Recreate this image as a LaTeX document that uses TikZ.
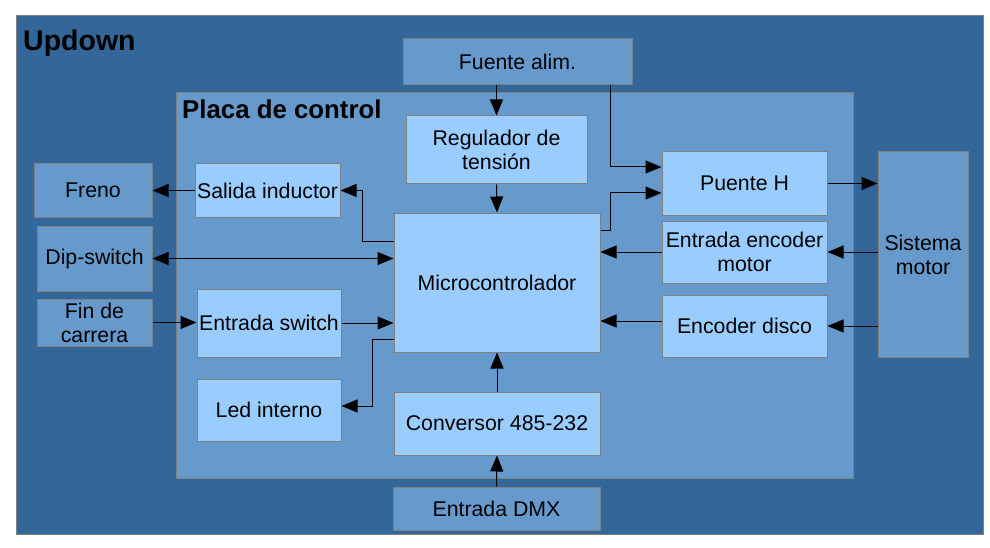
\documentclass[tikz,border=0pt]{standalone}
\usepackage{fontspec}
\setmainfont{Liberation Sans}
\usetikzlibrary{arrows.meta,calc}
\definecolor{dblue}{HTML}{336699}
\definecolor{mblue}{HTML}{6699CC}
\definecolor{lblue}{HTML}{99CCFF}
\definecolor{bord}{HTML}{808080}
\begin{document}
\begin{tikzpicture}[x=1pt,y=-1pt,
  base/.style={draw=bord,line width=1pt,inner sep=0pt,align=center,font=\fontsize{21.3}{24}\selectfont},
  inbox/.style={base,fill=lblue},
  outbox/.style={base,fill=mblue},
  arr/.style={line width=1pt,-{Triangle[length=16pt,width=13pt]}},
  arrb/.style={line width=1pt,{Triangle[length=16pt,width=13pt]}-{Triangle[length=16pt,width=13pt]}}]
\useasboundingbox (0,0) rectangle (990,548);
\fill[white] (0,0) rectangle (990,548);
% containers
\draw[draw=bord,fill=dblue,line width=1pt] (16,16) rectangle (983,534);
\draw[draw=bord,fill=mblue,line width=1pt] (176,93) rectangle (853,478);
\node[anchor=base west,inner sep=0pt,font=\fontsize{28.5}{32}\selectfont\bfseries] (tup) at (23,50.5) {Updown};
\node[anchor=base west,inner sep=0pt,font=\fontsize{25.8}{29}\selectfont\bfseries] (tpl) at (182,119) {Placa de control};
% boxes
\node[outbox,minimum width=229pt,minimum height=46pt] (fuente) at (517.5,62) {Fuente alim.};
\node[inbox,minimum width=181pt,minimum height=68pt] (reg) at (496.5,150) {Regulador de\\tensión};
\node[inbox,minimum width=206pt,minimum height=139pt] (micro) at (497,282.5) {Microcontrolador};
\node[inbox,minimum width=206pt,minimum height=63pt] (conv) at (497,423.5) {Conversor 485-232};
\node[outbox,minimum width=207pt,minimum height=43pt] (dmx) at (496.5,508.5) {Entrada DMX};
\node[inbox,minimum width=145pt,minimum height=53pt] (salida) at (267.5,190.5) {Salida inductor};
\node[outbox,minimum width=118pt,minimum height=53pt] (freno) at (93,190.5) {Freno};
\node[outbox,minimum width=115pt,minimum height=65pt] (dip) at (94.5,258.5) {Dip-switch};
\node[outbox,minimum width=115pt,minimum height=47pt] (fin) at (94.5,322.5) {Fin de\\carrera};
\node[inbox,minimum width=144pt,minimum height=68pt] (esw) at (269,323) {Entrada switch};
\node[inbox,minimum width=144pt,minimum height=62pt] (led) at (269,410) {Led interno};
\node[inbox,minimum width=165pt,minimum height=63pt] (puente) at (744.5,183.5) {Puente H};
\node[inbox,minimum width=165pt,minimum height=62pt] (enc) at (744.5,252) {Entrada encoder\\motor};
\node[inbox,minimum width=165pt,minimum height=62pt] (disco) at (744.5,326) {Encoder disco};
\node[outbox,minimum width=90pt,minimum height=205pt] (sis) at (923,254.5) {Sistema\\motor};
% connectors
\draw[arr] (reg.north |- fuente.south) -- (reg.north);
\draw[arr] (fuente.south -| 610,0) |- (puente.west |- 0,167);
\draw[arr] (reg.south) -- (micro.north);
\draw[arr] (micro.east |- 0,230) -- (610,230) |- (puente.west |- 0,193);
\draw[arr] (micro.west |- 0,241) -| (362,190.5) -- (salida.east);
\draw[arr] (salida.west) -- (freno.east);
\draw[arrb] (dip.east) -- (micro.west |- dip.east);
\draw[arr] (fin.east) -- (esw.west |- fin.east);
\draw[arr] (esw.east) -- (micro.west |- esw.east);
\draw[arr] (micro.west |- 0,339) -| (372,406) -- (led.east |- 0,406);
\draw[arr] (conv.north) -- (micro.south);
\draw[arr] (dmx.north) -- (conv.south);
\draw[arr] (puente.east) -- (sis.west |- puente.east);
\draw[arr] (sis.west |- enc.east) -- (enc.east);
\draw[arr] (enc.west) -- (micro.east |- enc.west);
\draw[arr] (sis.west |- 0,326) -- (disco.east);
\draw[arr] (disco.west |- 0,321) -- (micro.east |- 0,321);
\end{tikzpicture}
\end{document}
